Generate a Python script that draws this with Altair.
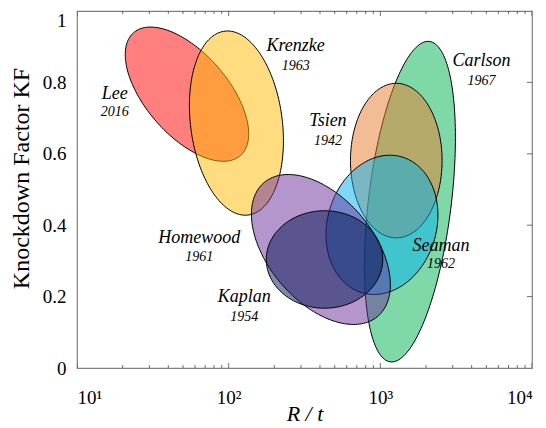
import altair as alt
import numpy as np
import pandas as pd

# ---- data ----
names = ["Lee", "Krenzke", "Carlson", "Tsien", "Seaman", "Homewood", "Kaplan"]
years = ["2016", "1963", "1967", "1942", "1962", "1961", "1954"]
colors = ["#ff0000", "#ffb901", "#00b151", "#e97929", "#01b1f1", "#692d9b", "#001450"]
# ellipse parameters: centre R/t, centre KF, half-width (decades of R/t), half-height (KF), tilt (correlation)
center_rt = [53.1, 112.5, 1567, 1274, 1025, 405.6, 428.5]
center_kf = [0.767, 0.686, 0.466, 0.581, 0.401, 0.332, 0.304]
half_width_dec = [0.407, 0.310, 0.300, 0.302, 0.369, 0.458, 0.384]
half_height_kf = [0.188, 0.258, 0.449, 0.2165, 0.195, 0.210, 0.1365]
tilt = [-0.59, -0.19, 0.40, 0.0, 0.14, -0.47, 0.0]
# label positions
label_rt = [17.74, 276.5, 4654, 451.4, 2508, 64.0, 126.5]
label_kf_name = [0.767, 0.9017, 0.860, 0.693, 0.341, 0.364, 0.199]
label_kf_year = [0.717, 0.8468, 0.805, 0.637, 0.290, 0.312, 0.143]
# axes
x_major = [10, 100, 1000, 10000]
x_tick_labels = ["10\u00b9", "10\u00b2", "10\u00b3", "10\u2074"]
x_minor = [m * 10 ** e for e in (1, 2, 3) for m in range(2, 10)]
y_major = [0, 0.2, 0.4, 0.6, 0.8, 1.0]
y_tick_labels = ["0", "0.2", "0.4", "0.6", "0.8", "1"]

SERIF = "Liberation Serif, Times New Roman, serif"

x_label_expr = " : ".join(
    f"datum.value == {v} ? '{l}'" for v, l in zip(x_major[:-1], x_tick_labels[:-1])
) + f" : '{x_tick_labels[-1]}'"
y_label_expr = " : ".join(
    f"abs(datum.value - {v}) < 0.001 ? '{l}'" for v, l in zip(y_major[:-1], y_tick_labels[:-1])
) + f" : '{y_tick_labels[-1]}'"

x_enc = alt.X(
    "x:Q",
    scale=alt.Scale(type="log", domain=[10, 10000], nice=False),
    axis=alt.Axis(
        values=x_major, labelExpr=x_label_expr, ticks=False, domain=False, grid=False,
        labelPadding=20, labelFontSize=19, title="R / t", titleFontStyle="italic",
        titleFontWeight="normal", titleFontSize=22, titleY=52, titleBaseline="alphabetic",
    ),
)
y_enc = alt.Y(
    "y:Q",
    scale=alt.Scale(domain=[0, 1], nice=False),
    axis=alt.Axis(
        values=y_major, labelExpr=y_label_expr, ticks=False, domain=False, grid=False,
        labelPadding=11, labelFontSize=19,
        labelBaseline=alt.ConditionalAxisLabelBaseline(
            condition={"test": "datum.value > 0.99", "value": "top"}, value="middle"
        ),
        title="Knockdown Factor KF",
        titleFontWeight="normal", titleFontSize=24, titleX=-49, titleY=167,
        titleBaseline="alphabetic", titleAlign="center",
    ),
)


def ellipse_df(i):
    t = np.linspace(0, 2 * np.pi, 181)
    r = tilt[i]
    u = np.log10(center_rt[i]) + half_width_dec[i] * np.cos(t)
    v = center_kf[i] + half_height_kf[i] * (r * np.cos(t) + np.sqrt(1 - r * r) * np.sin(t))
    return pd.DataFrame({"x": 10 ** u, "y": v, "i": np.arange(len(t))})


layers = []
for i in range(len(names)):
    layers.append(
        alt.Chart(ellipse_df(i))
        .mark_line(fill=colors[i], fillOpacity=0.5, stroke="black", strokeWidth=1)
        .encode(x=x_enc, y=y_enc, order=alt.Order("i:Q"))
    )

# inward ticks (bottom, top, right)
xt = pd.DataFrame({"x": x_major + x_minor, "len": [10] * len(x_major) + [6] * len(x_minor)})
bottom = xt.assign(y=0.0)
top = xt.assign(y=1.0)
right = pd.DataFrame({"x": [10000] * 4, "y": y_major[1:-1], "len": [10] * 4})
tick_df = pd.concat([bottom, top])
layers.append(
    alt.Chart(tick_df)
    .mark_tick(orient="vertical", clip=True, thickness=1, color="#333")
    .encode(x=x_enc, y=y_enc, size=alt.Size("len:Q", scale=None))
)
layers.append(
    alt.Chart(right)
    .mark_tick(orient="horizontal", clip=True, thickness=1, color="#333")
    .encode(x=x_enc, y=y_enc, size=alt.Size("len:Q", scale=None))
)

name_df = pd.DataFrame({"x": label_rt, "y": label_kf_name, "text": names})
year_df = pd.DataFrame({"x": label_rt, "y": label_kf_year, "text": years})
layers.append(
    alt.Chart(name_df)
    .mark_text(font=SERIF, fontStyle="italic", fontSize=18, color="black")
    .encode(x=x_enc, y=y_enc, text="text:N")
)
layers.append(
    alt.Chart(year_df)
    .mark_text(font=SERIF, fontStyle="italic", fontSize=14, color="black")
    .encode(x=x_enc, y=y_enc, text="text:N")
)

chart = (
    alt.layer(*layers)
    .properties(
        width=455,
        height=357,
        autosize=alt.AutoSizeParams(type="none"),
        padding={"left": 69, "top": 3, "right": 6, "bottom": 58},
    )
    .configure_view(stroke="#808080", strokeWidth=1.2)
    .configure_axis(labelFont=SERIF, titleFont=SERIF, labelColor="black", titleColor="black")
)

chart.save("out.html", embed_options={"renderer": "svg", "actions": False})
